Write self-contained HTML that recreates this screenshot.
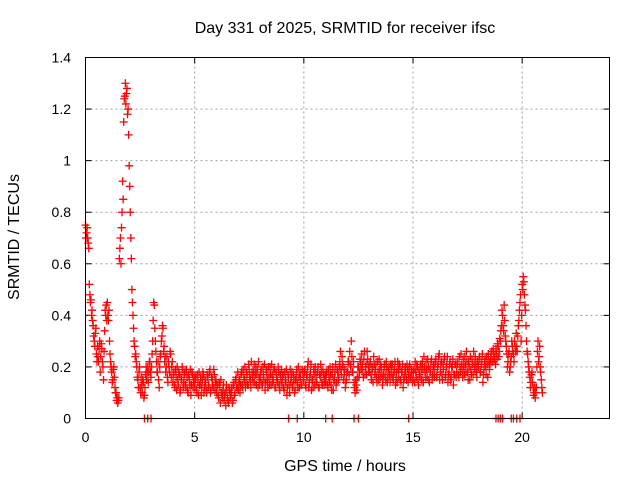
<!DOCTYPE html>
<html><head><meta charset="utf-8"><style>
body{margin:0;background:#fff}
svg text{font-family:"Liberation Sans",sans-serif;font-size:14px;fill:#000}
svg text.big{font-size:16px}
</style></head><body>
<svg id="c" width="640" height="480" xmlns="http://www.w3.org/2000/svg">
<rect width="640" height="480" fill="#fff"/>
<text class="big" x="345" y="33" text-anchor="middle">Day 331 of 2025, SRMTID for receiver ifsc</text>
<text class="big" x="345" y="471" text-anchor="middle">GPS time / hours</text>
<text class="big" x="19" y="237" text-anchor="middle" transform="rotate(-90 19 237)">SRMTID / TECUs</text>
<g id="grid"></g><g id="ticks"></g><g id="pts"></g>
<rect x="85.5" y="57.5" width="524" height="361" fill="none" stroke="#000"/>
</svg>
<script>
const xTicks=[0,5,10,15,20];
const yTicks=[0,0.2,0.4,0.6,0.8,1,1.2,1.4];
const yTickLabels=["0","0.2","0.4","0.6","0.8","1","1.2","1.4"];
const sampleStep=0.05;
const srmtid=[
.75,.72,.70,.66,.48,.46,.42,.36,.30,.33,.25,.28,.22,.30,.24,.27,.20,.26,.42,.44,
.45,.38,.30,.22,.18,.15,.20,.12,.10,.08,.07,.62,.70,.74,.92,1.15,1.25,1.22,1.28,1.20,
.98,.80,.62,.45,.35,.28,.25,.20,.15,.18,.12,.16,.10,.14,.09,.17,.15,.20,.18,.22,
.16,.25,.38,.44,.30,.22,.18,.15,.20,.25,.32,.35,.28,.24,.20,.16,.22,.18,.25,.20,
.14,.18,.12,.16,.20,.13,.17,.11,.15,.19,.14,.18,.12,.16,.10,.15,.19,.13,.17,.14,
.12,.16,.10,.14,.18,.13,.09,.15,.17,.12,.14,.10,.16,.13,.19,.11,.15,.12,.17,.14,
.10,.13,.08,.12,.15,.09,.11,.07,.10,.13,.08,.06,.11,.09,.12,.07,.14,.10,.16,.12,
.11,.15,.13,.18,.12,.16,.20,.14,.17,.13,.19,.15,.22,.16,.18,.14,.20,.17,.12,.16,
.15,.19,.13,.17,.21,.14,.18,.12,.16,.20,.13,.17,.15,.19,.12,.16,.14,.18,.11,.15,
.13,.17,.11,.15,.19,.12,.16,.10,.14,.18,.13,.15,.11,.17,.14,.20,.12,.16,.13,.18,
.15,.19,.12,.16,.22,.14,.18,.11,.15,.19,.13,.17,.14,.20,.12,.16,.18,.13,.17,.15,
.14,.18,.12,.16,.20,.13,.17,.11,.15,.21,.14,.18,.16,.22,.19,.24,.20,.17,.12,.15,
.18,.22,.26,.20,.24,.18,.14,.10,.13,.16,.20,.18,.22,.25,.19,.23,.17,.21,.26,.20,
.18,.22,.15,.19,.24,.17,.21,.14,.18,.23,.16,.20,.13,.17,.21,.15,.19,.16,.20,.14,
.17,.21,.15,.19,.13,.18,.22,.16,.20,.14,.18,.12,.16,.20,.15,.19,.17,.21,.16,.18,
.15,.19,.22,.16,.20,.13,.17,.21,.15,.19,.24,.18,.22,.16,.20,.14,.18,.23,.17,.21,
.19,.23,.17,.21,.25,.18,.22,.15,.19,.24,.17,.21,.14,.18,.22,.16,.20,.13,.17,.21,
.18,.22,.16,.20,.25,.19,.23,.17,.21,.26,.18,.22,.15,.19,.23,.17,.21,.24,.18,.22,
.20,.24,.18,.22,.14,.19,.23,.17,.21,.25,.19,.23,.26,.22,.25,.24,.27,.23,.28,.26,
.30,.36,.40,.34,.38,.30,.25,.22,.26,.20,.24,.28,.25,.30,.26,.28,.32,.38,.45,.30,
.52,.55,.48,.42,.30,.25,.20,.16,.14,.18,.12,.10,.08,.12,.26,.22,.28,.18,.12];
const srmtidB=[
.70,.74,.68,.52,.45,.40,.38,.32,.28,.35,.22,.24,.27,.18,.29,.22,.15,.34,.40,.38,
.40,.42,.25,.20,.14,.19,.16,.10,.07,.06,.08,.66,.60,.80,.85,1.24,1.30,1.26,1.18,1.10,
.90,.70,.50,.40,.30,.24,.22,.16,.12,.20,.10,.13,.15,.08,.12,.20,.18,.14,.22,.18,
.20,.30,.45,.35,.26,.18,.22,.12,.24,.30,.36,.26,.22,.18,.24,.14,.20,.26,.16,.22,
.17,.13,.19,.11,.15,.18,.10,.16,.20,.12,.17,.13,.19,.11,.17,.13,.09,.18,.12,.16,
.15,.11,.17,.09,.13,.16,.12,.18,.10,.15,.11,.17,.12,.18,.10,.16,.13,.19,.11,.15,
.13,.09,.14,.06,.10,.08,.13,.09,.05,.11,.07,.12,.08,.10,.06,.13,.09,.15,.12,.18,
.14,.10,.17,.13,.19,.15,.12,.18,.13,.21,.16,.12,.18,.14,.21,.17,.13,.19,.22,.13,
.18,.14,.20,.15,.11,.19,.15,.20,.13,.17,.21,.14,.19,.12,.18,.15,.20,.13,.17,.19,
.16,.12,.18,.14,.09,.17,.13,.19,.16,.12,.17,.10,.15,.19,.12,.16,.18,.13,.19,.15,
.18,.13,.17,.20,.12,.16,.21,.15,.12,.17,.20,.14,.18,.12,.17,.21,.14,.19,.13,.17,
.17,.13,.19,.14,.17,.11,.20,.15,.18,.13,.19,.15,.20,.26,.17,.21,.15,.19,.14,.18,
.22,.17,.21,.30,.18,.22,.12,.15,.11,.20,.16,.23,.19,.21,.16,.26,.20,.17,.23,.18,
.21,.17,.20,.14,.21,.19,.16,.22,.15,.19,.21,.17,.15,.20,.17,.22,.14,.19,.17,.21,
.20,.16,.18,.22,.16,.14,.19,.21,.15,.18,.21,.15,.19,.17,.21,.14,.20,.16,.19,.14,
.18,.14,.18,.21,.15,.19,.16,.19,.22,.14,.20,.16,.19,.23,.15,.19,.22,.15,.20,.16,
.22,.16,.20,.24,.15,.21,.17,.21,.23,.16,.20,.24,.17,.21,.15,.20,.23,.17,.21,.16,
.21,.17,.24,.18,.21,.16,.20,.24,.18,.22,.15,.20,.24,.17,.21,.26,.19,.21,.16,.20,
.23,.18,.21,.25,.17,.22,.20,.24,.16,.22,.21,.25,.22,.27,.23,.21,.25,.29,.24,.31,
.34,.42,.36,.44,.32,.28,.20,.25,.18,.22,.30,.26,.22,.28,.33,.26,.36,.42,.48,.40,
.50,.53,.44,.36,.26,.22,.18,.12,.17,.14,.09,.12,.10,.20,.30,.24,.20,.15,.10];
const zeroTimes=[2.7,2.85,3.0,9.3,9.7,11.0,11.3,12.3,12.5,14.8,18.8,18.9,19.0,19.1,19.5,19.6,19.75,19.9];
const X0=85.5,X1=609.5,Y0=418.5,Y1=57.5;
const xs=v=>X0+v/24*(X1-X0);
const ys=v=>Y0-v/1.4*(Y0-Y1);
const NS="http://www.w3.org/2000/svg";
function mk(tag,attrs,parent){const e=document.createElementNS(NS,tag);for(const k in attrs)e.setAttribute(k,attrs[k]);parent.appendChild(e);return e;}
const grid=document.getElementById('grid'),ticks=document.getElementById('ticks'),pts=document.getElementById('pts');
xTicks.forEach(t=>{const x=xs(t);
 if(t>0){const g=mk('line',{x1:x,x2:x,y1:Y0,y2:Y1,stroke:'#a0a0a0','stroke-dasharray':'2,3'},grid);
 
 }
 mk('line',{x1:x,x2:x,y1:Y0,y2:Y0-6,stroke:'#000'},ticks);
 mk('line',{x1:x,x2:x,y1:Y1,y2:Y1+6,stroke:'#000'},ticks);
 const l=mk('text',{x:x,y:442,'text-anchor':'middle'},ticks);l.textContent=t;
 
 
});
yTicks.forEach((t,i)=>{const y=ys(t);
 if(t>0&&t<1.4){const g=mk('line',{x1:X0,x2:X1,y1:y,y2:y,stroke:'#a0a0a0','stroke-dasharray':'2,3'},grid);
 
 }
 mk('line',{x1:X0,x2:X0+6,y1:y,y2:y,stroke:'#000'},ticks);
 mk('line',{x1:X1,x2:X1-6,y1:y,y2:y,stroke:'#000'},ticks);
 const l=mk('text',{x:71,y:y+5,'text-anchor':'end'},ticks);l.textContent=yTickLabels[i];
 
 
});
function plus(x,y,col){return mk('path',{d:`M${x-4} ${y}h8M${x} ${y-4}v8`,stroke:col,'stroke-width':1.3,fill:'none'},pts);}
srmtidB.forEach((v,i)=>{const p=plus(xs(i*sampleStep+0.025),ys(v),'#ff0000');
 
 });
srmtid.forEach((v,i)=>{const p=plus(xs(i*sampleStep),ys(v),'#ff0000');
 
 });
zeroTimes.forEach(t=>{const p=plus(xs(t),ys(0),'#ff0000');
 
 });
</script>
</body></html>
